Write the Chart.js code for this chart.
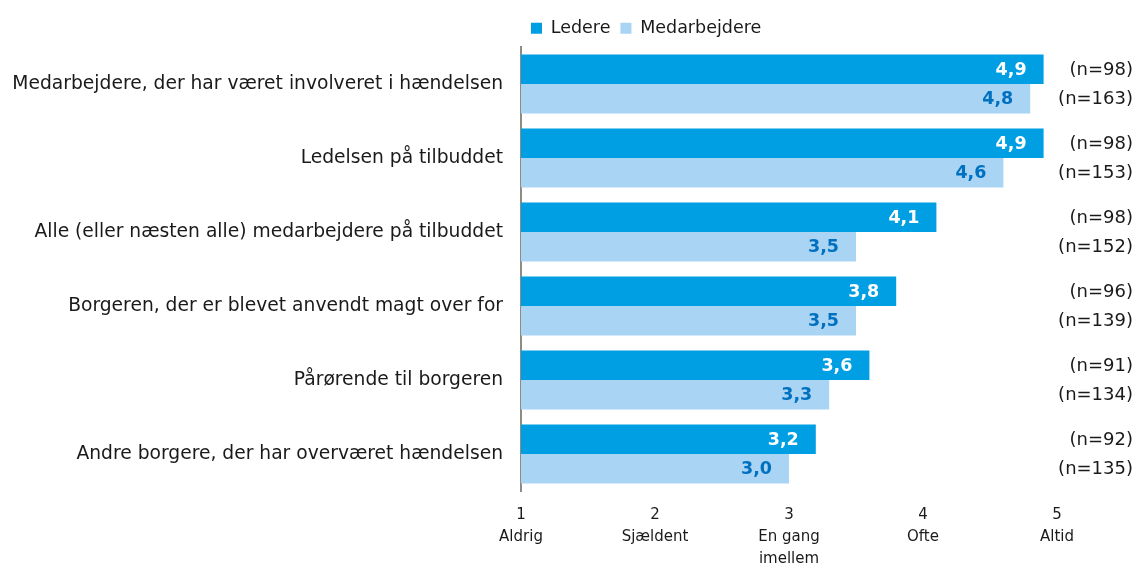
<!DOCTYPE html>
<html>
<head>
<meta charset="utf-8">
<script src="https://cdn.jsdelivr.net/npm/chart.js@4/dist/chart.umd.min.js"></script>
<style>
  html, body { margin: 0; padding: 0; background: #fff; }
  #wrap { width: 1135px; height: 567px; }
</style>
</head>
<body>
<div id="wrap"><canvas id="hyppighed"></canvas></div>
<script>
const kategorier = [
  'Medarbejdere, der har været involveret i hændelsen',
  'Ledelsen på tilbuddet',
  'Alle (eller næsten alle) medarbejdere på tilbuddet',
  'Borgeren, der er blevet anvendt magt over for',
  'Pårørende til borgeren',
  'Andre borgere, der har overværet hændelsen'
];
const ledere = [4.9, 4.9, 4.1, 3.8, 3.6, 3.2];
const medarbejdere = [4.8, 4.6, 3.5, 3.5, 3.3, 3.0];
const nLedere = [98, 98, 98, 96, 91, 92];
const nMedarbejdere = [163, 153, 152, 139, 134, 135];
const skala = {
  1: ['1', 'Aldrig'],
  2: ['2', 'Sjældent'],
  3: ['3', 'En gang', 'imellem'],
  4: ['4', 'Ofte'],
  5: ['5', 'Altid']
};

const font = "'DejaVu Sans', Verdana, sans-serif";

// værdier i søjlerne og n til højre
const etiketter = {
  id: 'etiketter',
  afterDatasetsDraw(chart) {
    const ctx = chart.ctx;
    ctx.save();
    ctx.textBaseline = 'middle';
    chart.data.datasets.forEach((ds, i) => {
      const meta = chart.getDatasetMeta(i);
      const nListe = i === 0 ? nLedere : nMedarbejdere;
      meta.data.forEach((bar, j) => {
        ctx.font = 'bold 17.5px ' + font;
        ctx.textAlign = 'right';
        ctx.fillStyle = i === 0 ? '#ffffff' : '#0070c0';
        ctx.fillText(ds.data[j].toFixed(1).replace('.', ','), bar.x - 17, bar.y + 1);
        ctx.font = '18px ' + font;
        ctx.fillStyle = '#1a1a1a';
        ctx.fillText('(n=' + nListe[j] + ')', chart.width - 2, bar.y + 1);
      });
    });
    ctx.restore();
  }
};

new Chart(document.getElementById('hyppighed'), {
  type: 'bar',
  data: {
    labels: kategorier,
    datasets: [{
      label: 'Ledere',
      data: ledere,
      backgroundColor: '#009fe3',
      categoryPercentage: 0.8,
      barPercentage: 1
    }, {
      label: 'Medarbejdere',
      data: medarbejdere,
      backgroundColor: '#a9d4f4',
      categoryPercentage: 0.8,
      barPercentage: 1
    }]
  },
  options: {
    indexAxis: 'y',
    responsive: true,
    maintainAspectRatio: false,
    animation: false,
    layout: { padding: { top: 9.5, right: 78, left: 4, bottom: 0 } },
    scales: {
      x: {
        min: 1,
        max: 5,
        grid: { display: false, drawTicks: false },
        border: { display: false },
        afterFit: s => { s.height = 76; },
        ticks: {
          stepSize: 1,
          padding: 13,
          color: '#1a1a1a',
          font: { family: font, size: 15, lineHeight: 1.47 },
          callback: v => skala[v] || ''
        }
      },
      y: {
        grid: { display: false, drawTicks: false },
        border: { display: true, color: '#8c8c84', width: 2 },
        afterFit: s => { s.width = 517; },
        ticks: {
          padding: 18,
          color: '#1a1a1a',
          font: { family: font, size: 18.7 }
        }
      }
    },
    plugins: {
      legend: {
        position: 'top',
        align: 'start',
        fullSize: false,
        labels: {
          boxWidth: 11,
          boxHeight: 11,
          padding: 10,
          color: '#1a1a1a',
          font: { family: font, size: 17.5 }
        }
      },
      tooltip: { enabled: false }
    }
  },
  plugins: [etiketter]
});
</script>
</body>
</html>
